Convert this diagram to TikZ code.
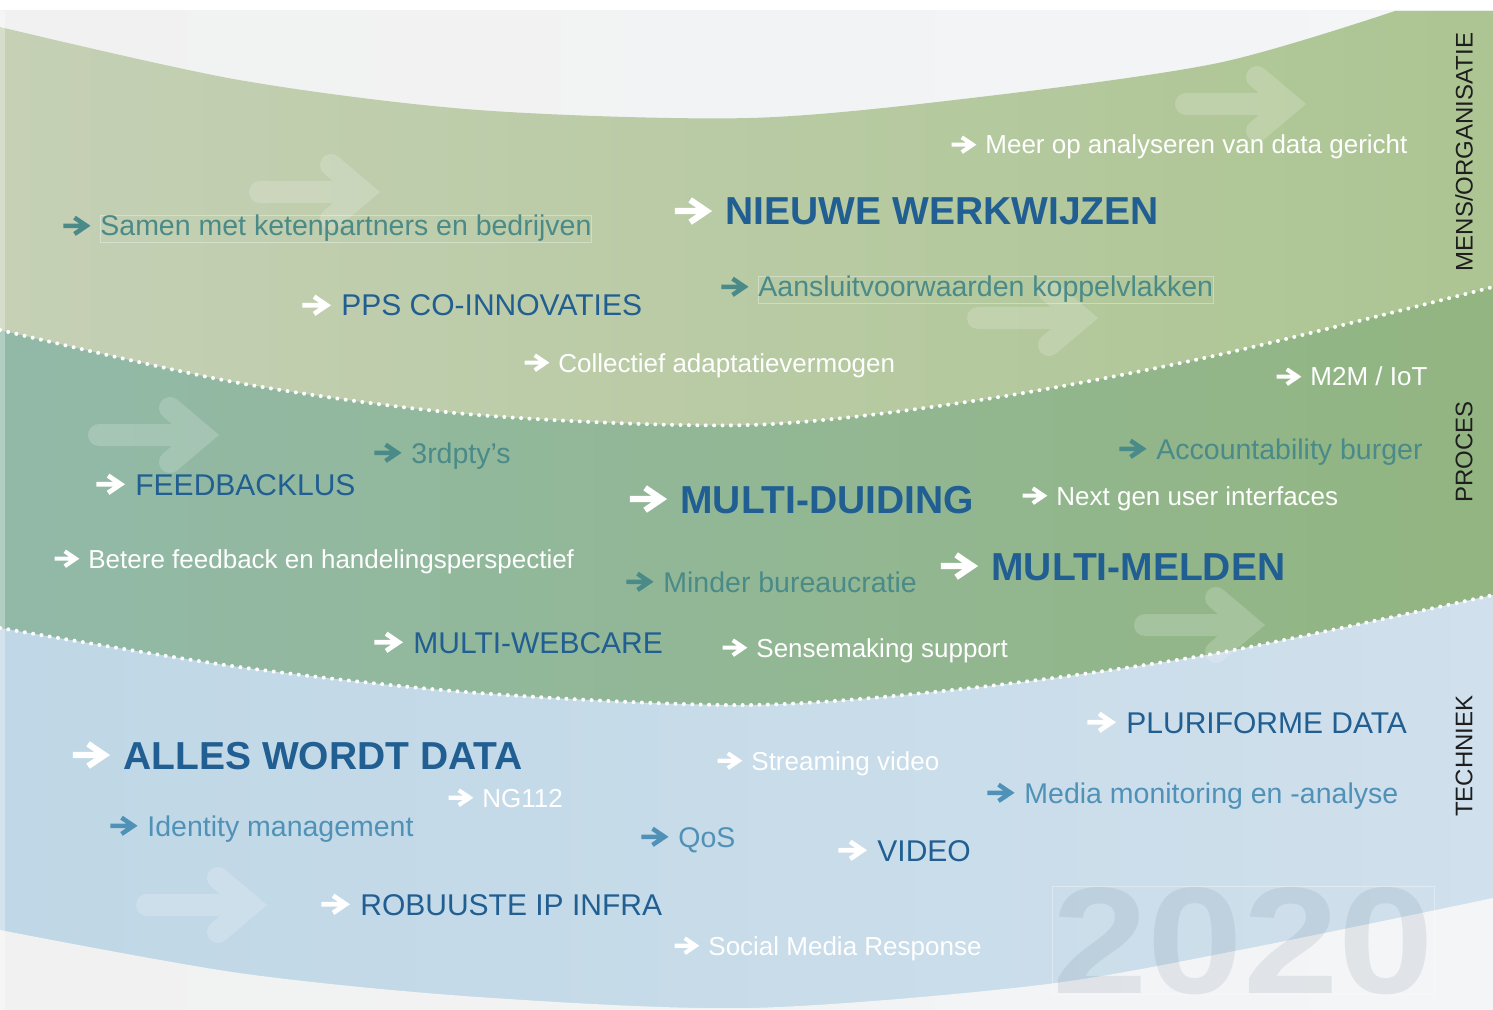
\documentclass[tikz,border=0pt]{standalone}
\usepackage{fontspec}
\setmainfont{Liberation Sans}
\newfontfamily\yearfont[FakeStretch=1.13]{Liberation Sans}
\definecolor{bgL}{RGB}{241,241,241}
\definecolor{bgR}{RGB}{243,245,247}
\definecolor{bandAL}{RGB}{197,208,181}
\definecolor{bandAR}{RGB}{172,197,146}
\definecolor{bandBL}{RGB}{146,185,168}
\definecolor{bandBR}{RGB}{146,181,129}
\definecolor{bandCL}{RGB}{191,215,230}
\definecolor{bandCR}{RGB}{208,224,236}
\definecolor{headblue}{RGB}{33,94,145}
\definecolor{tealtxt}{RGB}{74,138,136}
\definecolor{lbtxt}{RGB}{80,146,183}
\definecolor{sidetxt}{RGB}{30,30,30}
\definecolor{yearcol}{RGB}{90,110,130}
\tikzset{
  lbase/.style={inner sep=0pt, anchor=base west},
  hd/.style={lbase, font=\fontsize{19.5}{22}\selectfont\bfseries},
  md/.style={lbase, font=\fontsize{15}{18}\selectfont},
  tl/.style={lbase, font=\fontsize{14.25}{17}\selectfont},
  wt/.style={lbase, font=\fontsize{13}{16}\selectfont},
  fbox/.style={draw=white, draw opacity=0.35, line width=0.4pt},
  side/.style={rotate=90, inner sep=0pt, font=\fontsize{12}{14}\selectfont, text=sidetxt},
  dotline/.style={white, line width=2pt, line cap=round, dash pattern=on 0pt off 4.2pt},
  bigarrow/.style={white, opacity=0.18, line width=11pt, line cap=round, line join=miter},
  pics/larr/.style 2 args={code={
    \draw[#2, line width=#1*0.11pt, line join=miter]
      (-1.8*#1,-0.5*#1) -- (-0.74*#1,-0.5*#1)
      (-1.25*#1,-0.1*#1) -- (-0.66*#1,-0.5*#1) -- (-1.25*#1,-0.9*#1);
  }},
  pics/bigarr/.style={code={
    \draw[bigarrow] (-103,0) -- (-12,0) (-32,-27) -- (0,0) -- (-32,27);
  }}
}
\newcommand\mylab[8]{%
  \node[#4, text=#5] (#1) at (#2,#3) {#8};
  \pic at (#1.base west) {larr={#6}{#7}};
}
\begin{document}
\begin{tikzpicture}[x=0.5pt,y=-0.5pt]
\useasboundingbox (0,0) rectangle (1493,1010);
\clip (0,0) rectangle (1493,1010);
% background
\fill[white] (0,0) rectangle (1493,11);
\shade[left color=bgL, right color=bgR] (0,11) rectangle (1493,1010);
% band MENS/ORGANISATIE
\shade[left color=bandAL, right color=bandAR]
  plot[smooth] coordinates {(0,27) (239,80) (478,110) (750,118) (980,97) (1218,63) (1395,11)}
  -- (1493,11) -- (1493,1010) -- (0,1010) -- cycle;
% band PROCES
\shade[left color=bandBL, right color=bandBR]
  plot[smooth] coordinates {(0,330) (239,383) (478,415) (750,425) (980,400) (1218,355) (1493,287)}
  -- (1493,1010) -- (0,1010) -- cycle;
% band TECHNIEK
\shade[left color=bandCL, right color=bandCR]
  plot[smooth] coordinates {(0,628) (239,667) (478,693) (750,705) (980,687) (1218,653) (1493,595)}
  -- (1493,1010) -- (0,1010) -- cycle;
% bottom background
\shade[left color=bgL, right color=bgR]
  plot[smooth] coordinates {(0,930) (239,973) (478,997) (750,1008) (1040,985) (1250,948) (1493,898)}
  -- (1493,1010) -- (0,1010) -- cycle;
% dotted separators
\draw[dotline] plot[smooth] coordinates {(0,330) (239,383) (478,415) (750,425) (980,400) (1218,355) (1493,287)};
\draw[dotline] plot[smooth] coordinates {(0,628) (239,667) (478,693) (750,705) (980,687) (1218,653) (1493,595)};
% left edge strip
\fill[white, opacity=0.3] (0,11) rectangle (5,1010);
% decorative arrows
\pic at (363,192) {bigarr};
\pic at (1289,104) {bigarr};
\pic at (1081,318) {bigarr};
\pic at (202,435) {bigarr};
\pic at (1248,625) {bigarr};
\pic at (250,905) {bigarr};
% year
\node[inner sep=0pt, anchor=base west, text=yearcol, text opacity=0.12,
      font=\yearfont\bfseries\fontsize{76}{80}\selectfont,
      draw=white, draw opacity=0.35, line width=0.4pt] (year) at (1052,993) {2020};
% labels
\mylab{samen}{100}{236}{tl,fbox}{tealtxt}{20.4}{tealtxt}{Samen met ketenpartners en bedrijven}
\mylab{nieuwe}{725}{225}{hd}{headblue}{27.9}{white}{NIEUWE WERKWIJZEN}
\mylab{meer}{985}{154}{wt}{white}{18.6}{white}{Meer op analyseren van data gericht}
\mylab{pps}{341}{316}{md}{headblue}{21.5}{white}{PPS CO-INNOVATIES}
\mylab{aansluit}{758}{297}{tl,fbox}{tealtxt}{20.4}{tealtxt}{Aansluitvoorwaarden koppelvlakken}
\mylab{collectief}{558}{372}{wt}{white}{18.6}{white}{Collectief adaptatievermogen}
\mylab{mtwom}{1310}{386}{wt}{white}{18.6}{white}{M2M / IoT}
\mylab{derde}{411}{463}{tl}{tealtxt}{20.4}{tealtxt}{3rdpty’s}
\mylab{feedback}{135}{495}{md}{headblue}{21.5}{white}{FEEDBACKLUS}
\mylab{account}{1156}{459}{tl}{tealtxt}{20.4}{tealtxt}{Accountability burger}
\mylab{duiding}{680}{513}{hd}{headblue}{27.9}{white}{MULTI-DUIDING}
\mylab{nextgen}{1056}{505}{wt}{white}{18.6}{white}{Next gen user interfaces}
\mylab{betere}{88}{568}{wt}{white}{18.6}{white}{Betere feedback en handelingsperspectief}
\mylab{minder}{663}{592}{tl}{tealtxt}{20.4}{tealtxt}{Minder bureaucratie}
\mylab{melden}{991}{580}{hd}{headblue}{27.9}{white}{MULTI-MELDEN}
\mylab{webcare}{413}{653}{md}{headblue}{21.5}{white}{MULTI-WEBCARE}
\mylab{sense}{756}{657}{wt}{white}{18.6}{white}{Sensemaking support}
\mylab{pluri}{1126}{733}{md}{headblue}{21.5}{white}{PLURIFORME DATA}
\mylab{alles}{123}{769}{hd}{headblue}{27.9}{white}{ALLES WORDT DATA}
\mylab{stream}{751}{770}{wt}{white}{18.6}{white}{Streaming video}
\mylab{media}{1024}{803}{tl}{lbtxt}{20.4}{lbtxt}{Media monitoring en -analyse}
\mylab{ngnum}{482}{807}{wt}{white}{18.6}{white}{NG112}
\mylab{ident}{147}{836}{tl}{lbtxt}{20.4}{lbtxt}{Identity management}
\mylab{qos}{678}{847}{tl}{lbtxt}{20.4}{lbtxt}{QoS}
\mylab{video}{877}{861}{md}{headblue}{21.5}{white}{VIDEO}
\mylab{robuust}{360}{915}{md}{headblue}{21.5}{white}{ROBUUSTE IP INFRA}
\mylab{social}{708}{955}{wt}{white}{18.6}{white}{Social Media Response}
% side labels
\node[side] (mens) at (1464,152) {MENS/ORGANISATIE};
\node[side] (proces) at (1464,452) {PROCES};
\node[side] (techniek) at (1464,756) {TECHNIEK};
\end{tikzpicture}
\end{document}
